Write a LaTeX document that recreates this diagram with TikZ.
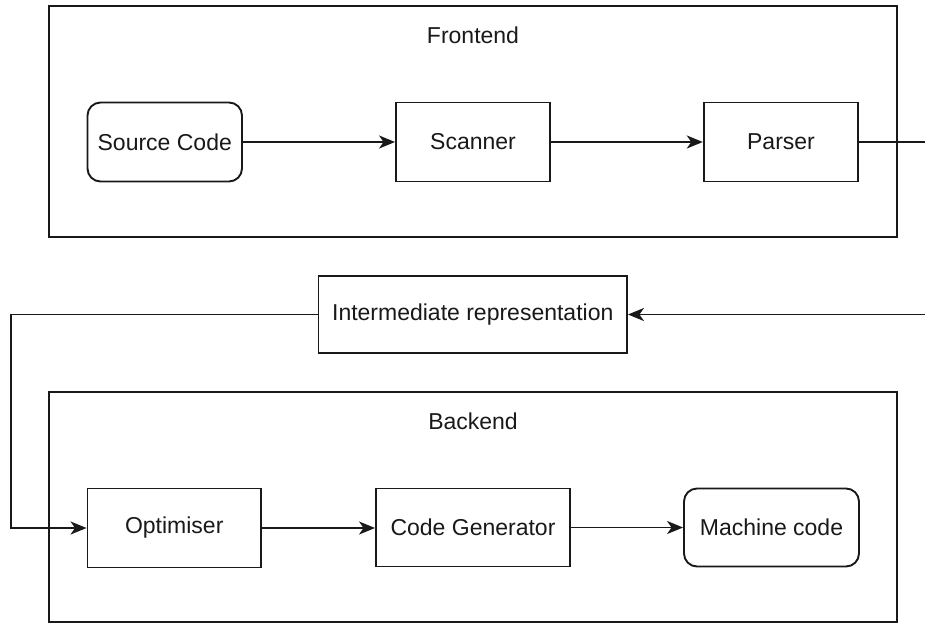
\documentclass[tikz,border=0pt]{standalone}
\usepackage{fontspec}
\setmainfont{Liberation Sans}
\usetikzlibrary{arrows.meta}
\begin{document}
\begin{tikzpicture}[x=1pt,y=-1pt,
  every node/.style={font=\fontsize{23}{27}\selectfont, text=black!90},
  boxn/.style={draw=black!90, line width=1.9pt, inner sep=0pt, fill=white},
  roundn/.style={boxn, rounded corners=13pt},
  container/.style={draw=black!90, line width=1.9pt, inner sep=0pt},
  conn/.style={draw=black!90, line width=1.9pt},
  arr/.style={conn, -{Stealth[length=16pt,width=13pt,inset=4.5pt]}}
]
\useasboundingbox (0,0) rectangle (925,624);
% containers
\node[container, minimum width=848pt, minimum height=231pt] (frontend) at (473,121.5) {};
\node (frontlabel) at (473,35) {Frontend};
\node[container, minimum width=848pt, minimum height=230pt] (backend) at (473,507) {};
\node (backlabel) at (473,421) {Backend};
% frontend nodes
\node[roundn, minimum width=154.5pt, minimum height=79pt] (src) at (164.75,142) {Source Code};
\node[boxn, minimum width=154pt, minimum height=79pt] (scan) at (473,142) {Scanner};
\node[boxn, minimum width=154.5pt, minimum height=79pt] (parse) at (781,142) {Parser};
% intermediate
\node[boxn, minimum width=308.5pt, minimum height=77pt] (ir) at (472.75,314.5) {Intermediate representation};
% backend nodes
\node[boxn, minimum width=173.5pt, minimum height=79pt] (opt) at (174.25,528) {Optimiser};
\node[boxn, minimum width=194pt, minimum height=78pt] (gen) at (473,527.5) {Code Generator};
\node[roundn, minimum width=175pt, minimum height=78pt] (mc) at (771.5,527.5) {Machine code};
% free ends
\coordinate (pout) at (925,142);
\coordinate (rin) at (925,314.5);
\coordinate (lft) at (11,314.5);
% connectors
\draw[arr] (src) -- (scan);
\draw[arr] (scan) -- (parse);
\draw[conn] (parse.east) -- (pout);
\draw[arr] (rin) -- (ir.east);
\draw[arr] (ir.west) -- (lft) |- (opt.west);
\draw[arr] (opt.east) -- (opt.east -| gen.west);
\draw[arr] (gen) -- (mc);
\end{tikzpicture}
\end{document}
